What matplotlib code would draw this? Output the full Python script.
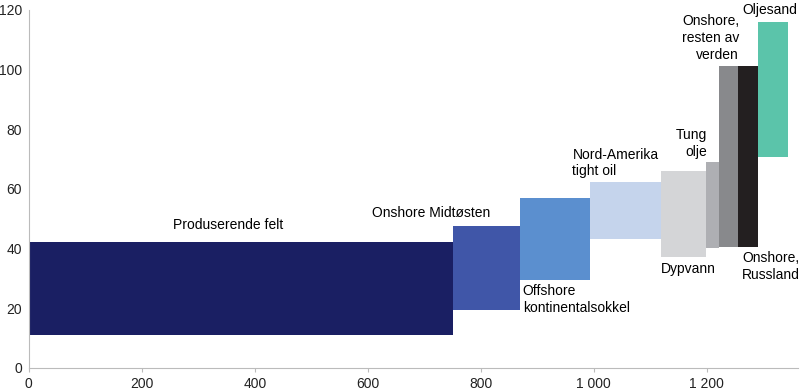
import matplotlib.pyplot as plt

plt.rcParams['font.family'] = ['Liberation Sans', 'DejaVu Sans']

# volume (x, cumulative width) and cost range (y) per category
names = ['Produserende felt', 'Onshore Midtøsten', 'Offshore kontinentalsokkel',
         'Nord-Amerika tight oil', 'Dypvann', 'Tung olje',
         'Onshore, resten av verden', 'Onshore, Russland', 'Oljesand']
widths = [750, 120, 124, 124, 80, 23, 34, 35, 53]
lows = [11, 19.5, 29.5, 43.2, 37, 40, 40.6, 40.6, 70.7]
highs = [42.2, 47.6, 57, 62.3, 66, 69, 101.2, 101.2, 116]
colors = ['#1a1f63', '#4056a8', '#5b8fcf', '#c5d4ec', '#d4d5d7',
          '#aeafb3', '#88898c', '#231f20', '#5bc4aa']

x_ticks = [0, 200, 400, 600, 800, 1000, 1200]
x_tick_labels = ['0', '200', '400', '600', '800', '1 000', '1 200']
y_ticks = [0, 20, 40, 60, 80, 100, 120]

fig, ax = plt.subplots(figsize=(8, 3.92), dpi=100)
fig.subplots_adjust(left=0.036, right=0.998, bottom=0.062, top=0.975)

lefts = []
pos = 0
for w in widths:
    lefts.append(pos)
    pos += w

for l, w, lo, hi, c in zip(lefts, widths, lows, highs, colors):
    ax.bar(l, hi - lo, width=w, bottom=lo, align='edge', color=c, linewidth=0)

fs = 10
ax.text(353, 45.5, 'Produserende felt', ha='center', va='bottom', fontsize=fs)
ax.text(712, 49.5, 'Onshore Midtøsten', ha='center', va='bottom', fontsize=fs)
ax.text(874, 28, 'Offshore\nkontinentalsokkel', ha='left', va='top', fontsize=fs, linespacing=1.25)
ax.text(962, 63.5, 'Nord-Amerika\ntight oil', ha='left', va='bottom', fontsize=fs, linespacing=1.25)
ax.text(1118, 35.5, 'Dypvann', ha='left', va='top', fontsize=fs)
ax.text(1201, 70, 'Tung\nolje', ha='right', va='bottom', fontsize=fs, linespacing=1.25)
ax.text(1257, 102.5, 'Onshore,\nresten av\nverden', ha='right', va='bottom', fontsize=fs,
        linespacing=1.25, multialignment='right')
ax.text(1262, 39, 'Onshore,\nRussland', ha='left', va='top', fontsize=fs, linespacing=1.25)
ax.text(1312, 117.5, 'Oljesand', ha='center', va='bottom', fontsize=fs)

ax.set_xlim(0, 1362)
ax.set_ylim(0, 120)
ax.set_xticks(x_ticks)
ax.set_xticklabels(x_tick_labels)
ax.set_yticks(y_ticks)
ax.tick_params(axis='x', length=3, color='#bbbbbb', labelsize=fs, labelcolor='#222222')
ax.tick_params(axis='y', length=0, labelsize=fs, labelcolor='#222222', pad=5)
for s in ['top', 'right']:
    ax.spines[s].set_visible(False)
for s in ['left', 'bottom']:
    ax.spines[s].set_color('#bbbbbb')
    ax.spines[s].set_linewidth(0.8)

fig.savefig('out.png', dpi=100)
